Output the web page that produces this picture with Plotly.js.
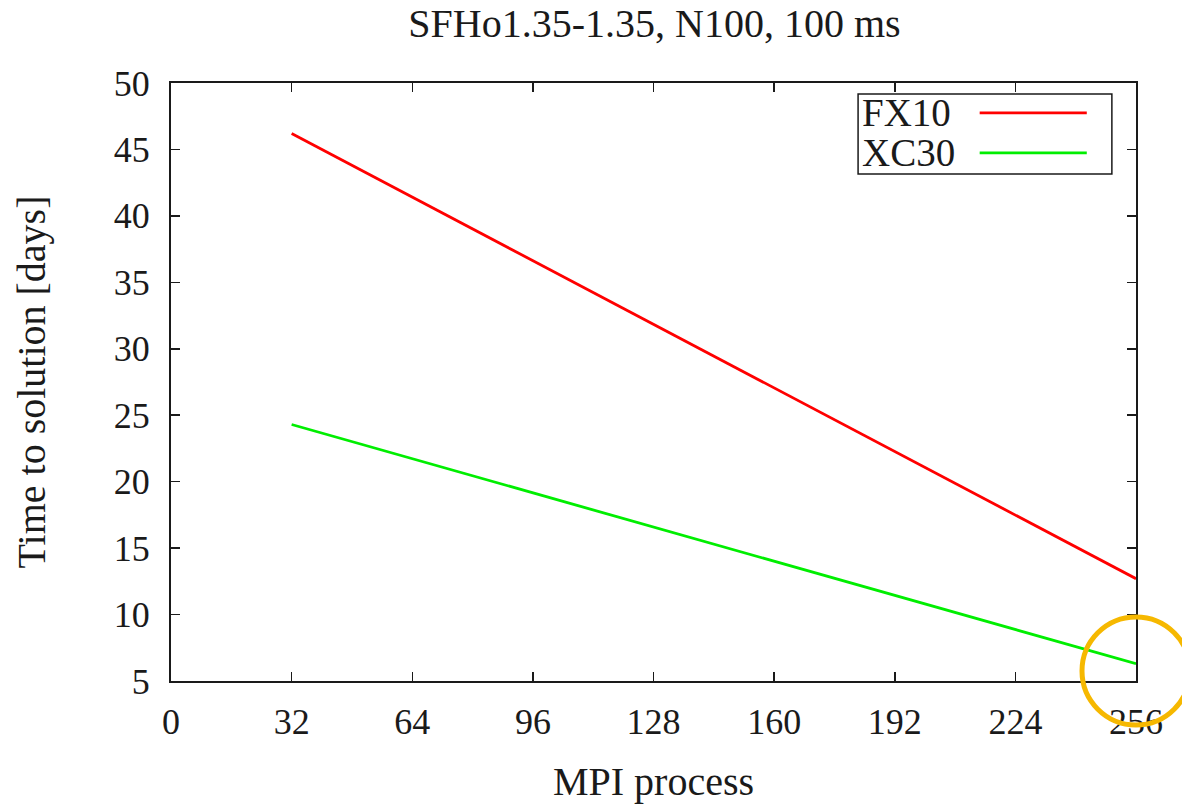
<!DOCTYPE html>
<html>
<head>
<meta charset="utf-8">
<script src="https://cdn.plot.ly/plotly-3.0.1.min.js"></script>
<style>
html,body{margin:0;padding:0;background:#fff;}
#chart{width:1182px;height:804px;}
</style>
</head>
<body>
<div id="chart"></div>
<script>
// Data
const mpiProcs = [32, 256];
const fx10Days = [46.2, 12.7];
const xc30Days = [24.3, 6.3];
const seriesNames = ['FX10', 'XC30'];
const seriesColors = ['#ff0000', '#00ee00'];
const xTicks = [0, 32, 64, 96, 128, 160, 192, 224, 256];
const yTicks = [5, 10, 15, 20, 25, 30, 35, 40, 45, 50];

const serif = 'Liberation Serif, Times New Roman, serif';
const ink = '#1a1a1a';

const traces = [
  {x: mpiProcs, y: fx10Days, name: seriesNames[0], mode: 'lines', line: {color: seriesColors[0], width: 2.8}},
  {x: mpiProcs, y: xc30Days, name: seriesNames[1], mode: 'lines', line: {color: seriesColors[1], width: 2.8}}
];

const axisCommon = {
  showgrid: false, zeroline: false, showline: true, linecolor: ink, linewidth: 2,
  mirror: 'ticks', ticks: 'inside', ticklen: 9, tickwidth: 1.5, tickcolor: ink,
  tickfont: {family: serif, size: 36, color: ink}
};

// manual legend (text left, sample line right, as in the reference)
const legendShapes = [
  {type: 'rect', xref: 'paper', yref: 'paper', x0: 0.712, x1: 0.975, y0: 0.848, y1: 0.9816,
   line: {color: ink, width: 1.5}, fillcolor: 'rgba(255,255,255,1)', layer: 'above'},
  {type: 'line', xref: 'paper', yref: 'paper', x0: 0.838, x1: 0.949, y0: 0.950, y1: 0.950,
   line: {color: seriesColors[0], width: 2.8}, layer: 'above'},
  {type: 'line', xref: 'paper', yref: 'paper', x0: 0.838, x1: 0.949, y0: 0.883, y1: 0.883,
   line: {color: seriesColors[1], width: 2.8}, layer: 'above'},
  // orange highlight circle
  {type: 'circle', xref: 'paper', yref: 'paper', xsizemode: 'pixel', ysizemode: 'pixel',
   xanchor: 1, yanchor: 0.0167, x0: -54, x1: 54, y0: -54, y1: 54,
   line: {color: '#f6b800', width: 5}, fillcolor: 'rgba(0,0,0,0)', layer: 'above'}
];

const legendText = [
  {xref: 'paper', yref: 'paper', x: 0.7135, y: 0.950, xanchor: 'left', yanchor: 'middle',
   text: seriesNames[0], showarrow: false, font: {family: serif, size: 39, color: ink}},
  {xref: 'paper', yref: 'paper', x: 0.7135, y: 0.883, xanchor: 'left', yanchor: 'middle',
   text: seriesNames[1], showarrow: false, font: {family: serif, size: 39, color: ink}}
];

const layout = {
  width: 1182, height: 804,
  paper_bgcolor: '#ffffff', plot_bgcolor: '#ffffff',
  margin: {l: 171, r: 46, t: 83, b: 123, pad: 0},
  showlegend: false,
  title: {text: 'SFHo1.35-1.35, N100, 100 ms', font: {family: serif, size: 40, color: ink},
          xref: 'container', x: 0.5537, xanchor: 'center', yref: 'container', y: 0.971, yanchor: 'middle'},
  xaxis: Object.assign({}, axisCommon, {
    range: [0, 256], tickmode: 'array', tickvals: xTicks, ticktext: xTicks.map(String),
    ticklabelstandoff: 8,
    title: {text: 'MPI process', font: {family: serif, size: 40, color: ink}, standoff: 26}
  }),
  yaxis: Object.assign({}, axisCommon, {
    range: [5, 50], tickmode: 'array', tickvals: yTicks, ticktext: yTicks.map(String),
    ticklabelstandoff: 12,
    title: {text: 'Time to solution [days]', font: {family: serif, size: 40, color: ink}, standoff: 56}
  }),
  shapes: legendShapes,
  annotations: legendText
};

Plotly.newPlot('chart', traces, layout, {displayModeBar: false, staticPlot: true});
</script>
</body>
</html>
